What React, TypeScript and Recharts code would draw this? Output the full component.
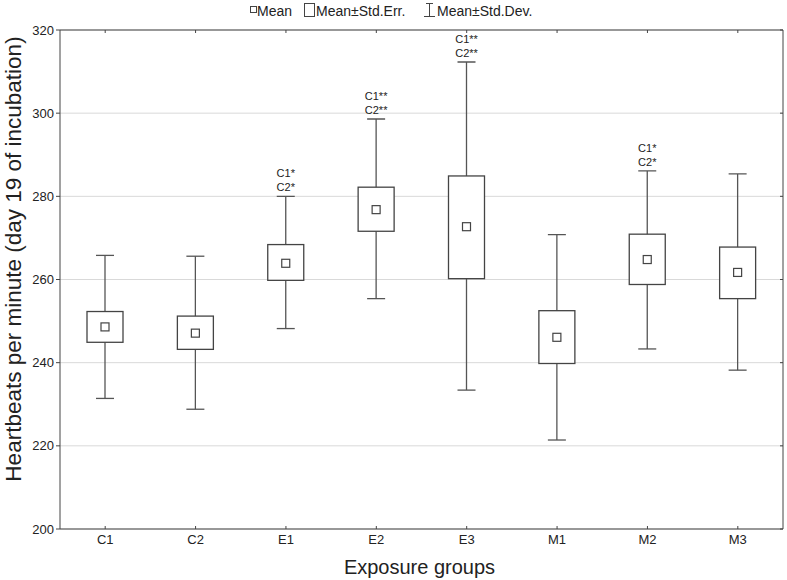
import React from "react";
import { ComposedChart, Bar, XAxis, YAxis, CartesianGrid } from "recharts";

const groups = ["C1", "C2", "E1", "E2", "E3", "M1", "M2", "M3"];
const means = [248.6, 247.1, 263.9, 276.8, 272.7, 246.1, 264.8, 261.7];
const seLow = [244.9, 243.2, 259.8, 271.6, 260.2, 239.8, 258.8, 255.4];
const seHigh = [252.3, 251.2, 268.4, 282.2, 284.9, 252.5, 270.9, 267.8];
const sdLow = [231.4, 228.8, 248.2, 255.4, 233.4, 221.4, 243.3, 238.2];
const sdHigh = [265.8, 265.6, 280.0, 298.6, 312.3, 270.8, 286.1, 285.4];
const notes: string[][] = [
  [],
  [],
  ["C1*", "C2*"],
  ["C1**", "C2**"],
  ["C1**", "C2**"],
  [],
  ["C1*", "C2*"],
  [],
];
const yTicks = [200, 220, 240, 260, 280, 300, 320];

const data = groups.map((name, i) => ({
  name,
  sd: [sdLow[i], sdHigh[i]],
  mean: means[i],
  seLow: seLow[i],
  seHigh: seHigh[i],
  note: notes[i],
}));

const FONT = '"Liberation Sans", Arial, sans-serif';
const INK = "#444";

// box = mean±SE, whisker = mean±SD, small square = mean
function BoxShape(props: any) {
  const { x, y, width, height, payload } = props;
  const top = Math.min(y, y + height);
  const bottom = Math.max(y, y + height);
  const [lo, hi] = payload.sd;
  const k = (bottom - top) / (hi - lo);
  const py = (v: number) => top + (hi - v) * k;
  const cx = x + width / 2;
  const cap = 9;
  const boxTop = py(payload.seHigh);
  const boxBot = py(payload.seLow);
  const my = py(payload.mean);
  const notesArr: string[] = payload.note || [];
  return (
    <g>
      <line x1={cx} x2={cx} y1={top} y2={bottom} stroke="#555" strokeWidth={1.3} />
      <line x1={cx - cap} x2={cx + cap} y1={top} y2={top} stroke="#555" strokeWidth={1.3} />
      <line x1={cx - cap} x2={cx + cap} y1={bottom} y2={bottom} stroke="#555" strokeWidth={1.3} />
      <rect x={x} y={boxTop} width={width} height={boxBot - boxTop} fill="#fff" stroke={INK} strokeWidth={1.3} />
      <rect x={cx - 4} y={my - 4} width={8} height={8} fill="#fff" stroke={INK} strokeWidth={1.2} />
      {notesArr.map((t, j) => (
        <text
          key={t}
          x={cx}
          y={top - 9 - (notesArr.length - 1 - j) * 14}
          textAnchor="middle"
          dominantBaseline="central"
          fontSize={11}
          fill="#222"
          fontFamily={FONT}
        >
          {t}
        </text>
      ))}
    </g>
  );
}

function Legend() {
  return (
    <svg width={787} height={22} style={{ position: "absolute", left: 0, top: 0 }}>
      <g fontFamily={FONT} fontSize={14} fill="#222">
        <rect x={250.5} y={6.5} width={6} height={6} fill="#fff" stroke={INK} />
        <text x={257} y={16}>Mean</text>
        <rect x={304.5} y={3.5} width={10} height={13} fill="#fff" stroke={INK} />
        <text x={316} y={16}>Mean±Std.Err.</text>
        <line x1={429.5} x2={429.5} y1={3} y2={17} stroke={INK} />
        <line x1={426} x2={433} y1={3.5} y2={3.5} stroke={INK} />
        <line x1={424} x2={435} y1={16.5} y2={16.5} stroke={INK} />
        <text x={437} y={16}>Mean±Std.Dev.</text>
      </g>
    </svg>
  );
}

export default function App() {
  return (
    <div style={{ position: "absolute", left: 0, top: 0, width: 787, height: 580, fontFamily: FONT, background: "#fff" }}>
      <Legend />
      <ComposedChart
        width={787}
        height={580}
        data={data}
        margin={{ top: 29, right: 3, left: 0, bottom: 0 }}
        barCategoryGap={0}
      >
        <CartesianGrid vertical={false} stroke="#d9d9d9" />
        <XAxis
          dataKey="name"
          height={51}
          stroke={INK}
          tickSize={-3}
          tickMargin={9}
          tick={{ fill: "#222", fontSize: 13 }}
          label={{
            content: (p: any) => {
              const vb = p.viewBox;
              return (
                <text x={vb.x + vb.width / 2 - 2} y={574} textAnchor="middle" fontSize={20} fill="#222" fontFamily={FONT}>
                  Exposure groups
                </text>
              );
            },
          }}
        />
        <XAxis
          xAxisId="top"
          dataKey="name"
          orientation="top"
          height={1}
          stroke={INK}
          tickSize={-3}
          tick={() => <g />}
        />
        <YAxis
          domain={[200, 320]}
          ticks={yTicks}
          width={60}
          stroke={INK}
          tickSize={4}
          tickMargin={2}
          tick={{ fill: "#222", fontSize: 13 }}
          allowDataOverflow
          label={{
            content: () => (
              <text
                x={13}
                y={259}
                transform="rotate(-90 13 259)"
                textAnchor="middle"
                dominantBaseline="central"
                fontSize={22.5}
                fill="#222"
                fontFamily={FONT}
              >
                Heartbeats per minute (day 19 of incubation)
              </text>
            ),
          }}
        />
        <YAxis
          yAxisId="right"
          orientation="right"
          domain={[200, 320]}
          ticks={yTicks}
          width={1}
          stroke={INK}
          tickSize={-3}
          tick={() => <g />}
          allowDataOverflow
        />
        <Bar dataKey="sd" barSize={36} shape={BoxShape} isAnimationActive={false} />
        {/* invisible series so the frame axes (top / right) get drawn */}
        <Bar
          xAxisId="top"
          yAxisId="right"
          dataKey="sd"
          barSize={36}
          shape={() => <g />}
          isAnimationActive={false}
        />
      </ComposedChart>
    </div>
  );
}
